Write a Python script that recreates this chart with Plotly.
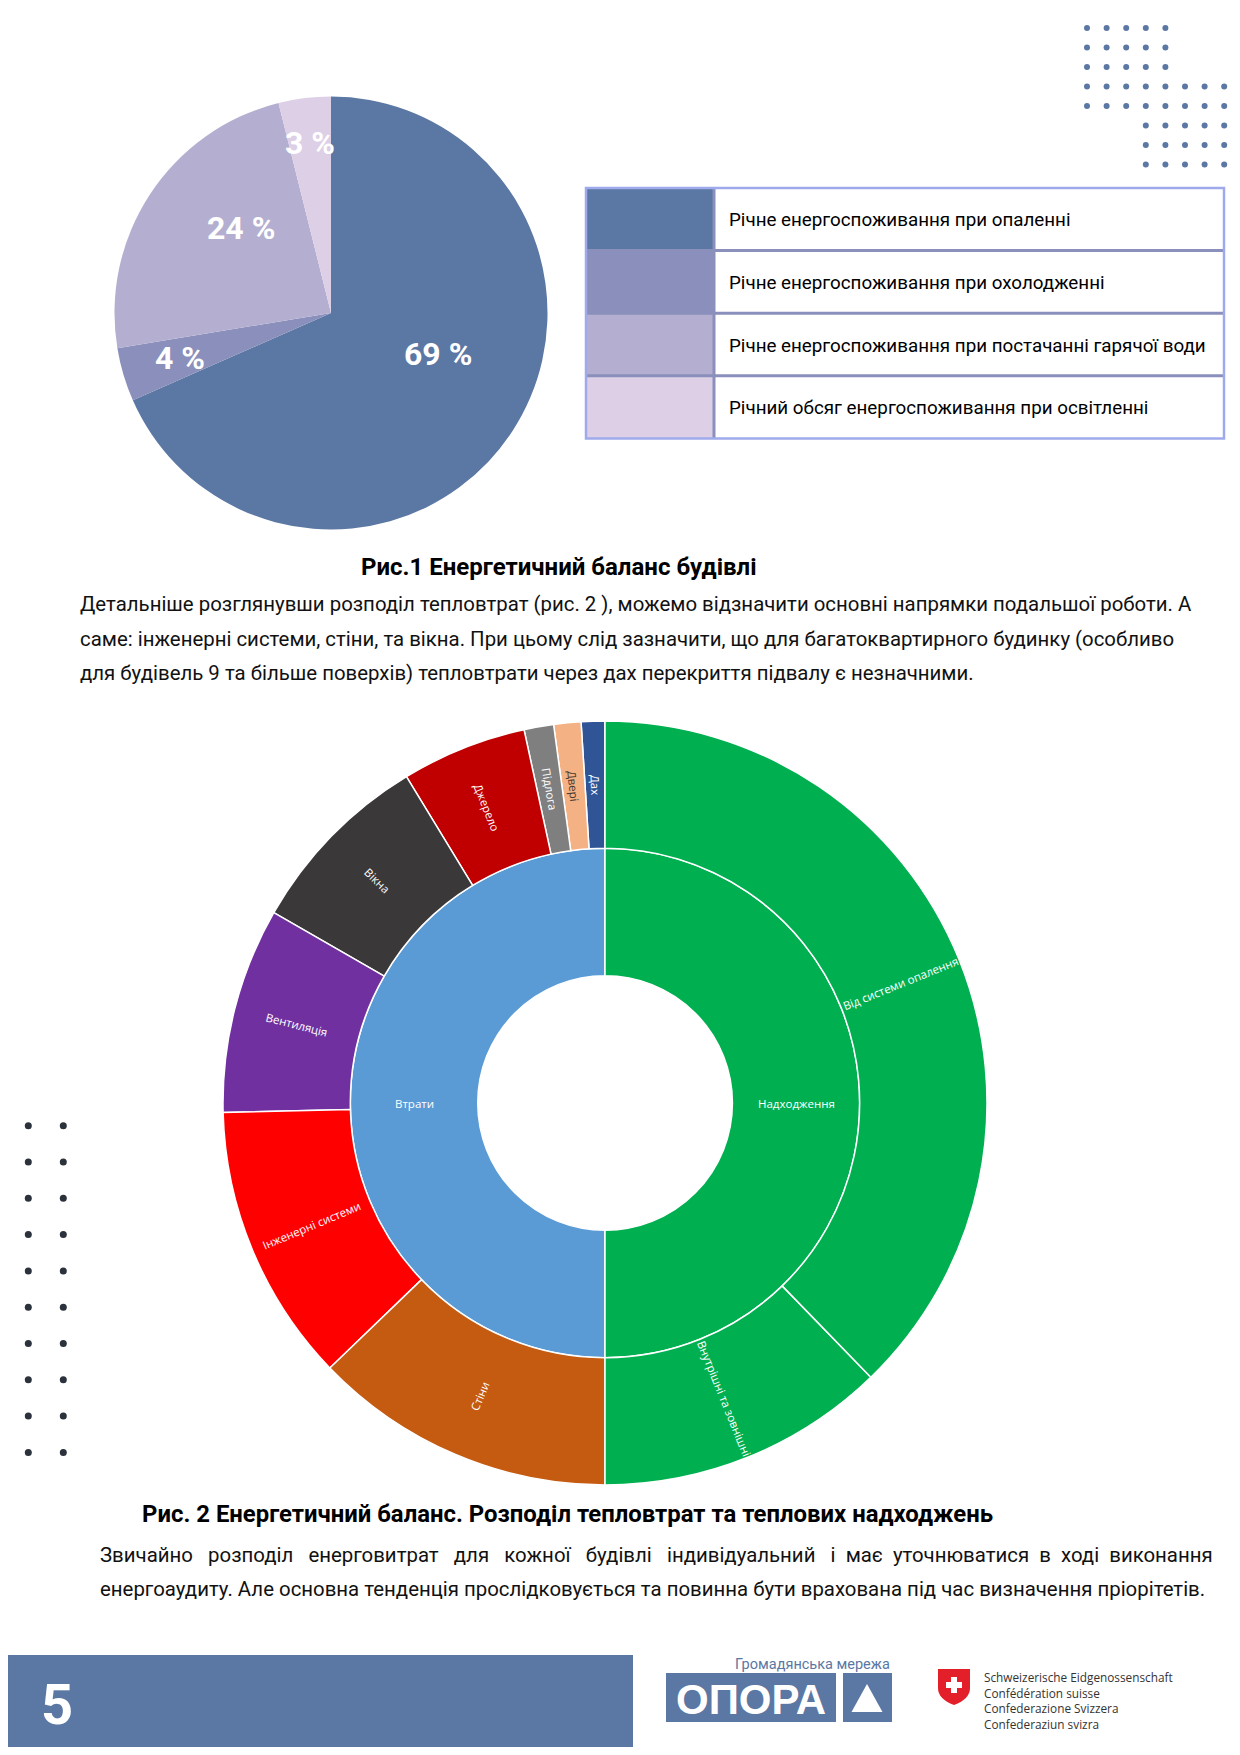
import math
import plotly.graph_objects as go

# ---- data ----
pie_labels = ["Річне енергоспоживання при опаленні",
              "Річне енергоспоживання при охолодженні",
              "Річне енергоспоживання при постачанні гарячої води",
              "Річний обсяг енергоспоживання при освітленні"]
pie_values = [68.4, 4.0, 23.7, 3.9]
pie_text = ["69 %", "4 %", "24 %", "3 %"]

groups = ["Втрати", "Надходження"]
loss_labels = ["Дах", "Двері", "Підлога", "Джерело", "Вікна", "Вентиляція",
               "Інженерні системи", "Стіни"]
loss_values = [1.0, 1.15, 1.25, 5.3, 8.0, 8.7, 11.8, 12.8]
gain_labels = ["Внутрішні та зовнішні", "Від системи опалення"]
gain_values = [12.25, 37.75]

caption1 = "Рис.1 Енергетичний баланс будівлі"
para1 = ["Детальніше розглянувши розподіл тепловтрат (рис. 2 ), можемо відзначити основні напрямки подальшої роботи. А",
         "саме: інженерні системи, стіни, та вікна. При цьому слід зазначити, що для багатоквартирного будинку (особливо",
         "для будівель 9 та більше поверхів) тепловтрати через дах перекриття підвалу є незначними."]
caption2 = "Рис. 2 Енергетичний баланс. Розподіл тепловтрат та теплових надходжень"
para2 = ["Звичайно розподіл енерговитрат для кожної будівлі індивідуальний і має уточнюватися в ході виконання",
         "енергоаудиту. Але основна тенденція прослідковується та повинна бути врахована під час визначення пріорітетів."]
swiss_lines = ["Schweizerische Eidgenossenschaft", "Confédération suisse",
               "Confederazione Svizzera", "Confederaziun svizra"]

# ---- styles ----
pie_colors = ["#5b77a3", "#8a8fbb", "#b4afd0", "#dccfe6"]
pie_label_r = [0.53, 0.73, 0.57, 0.79]    # label distance from centre (share of radius)
pie_label_turn = [-12, 0, 10, 0]          # small angular nudge of the label, degrees
group_colors = ["#5b9bd5", "#00b050"]
loss_colors = ["#2f5597", "#f4b183", "#7f7f7f", "#c00000", "#3a3838", "#7030a0",
               "#ff0000", "#c55a11"]
gain_colors = ["#00b050", "#00b050"]
BLUE = "#5b77a3"
FONT = "Roboto, 'Liberation Sans', sans-serif"
SB_FONT = "'Open Sans', Roboto, sans-serif"

# page is 1240x1755, body margin 8px -> figure 1224x1739 offset by 8
OFF = 8
W, H = 1240 - 2 * OFF, 1755 - 2 * OFF


def dom_x(a, b):
    return [(a - OFF) / W, (b - OFF) / W]


def dom_y(top, bottom):
    return [1 - (bottom - OFF) / H, 1 - (top - OFF) / H]


fig = go.Figure()

# pie (fig 1)
PCX, PCY, PR = 331, 313, 216.5
fig.add_trace(go.Pie(
    labels=pie_labels, values=pie_values,
    textinfo="none",
    sort=False, direction="clockwise", rotation=0,
    marker=dict(colors=pie_colors, line=dict(width=0)),
    hoverinfo="skip", showlegend=False,
    domain=dict(x=dom_x(PCX - PR, PCX + PR), y=dom_y(PCY - PR, PCY + PR)),
))

# sunburst (fig 2) - white root works as the hole
SCX, SCY, SR = 605, 1103, 382
ids = ["root"] + groups + ["L" + s for s in loss_labels] + ["G" + s for s in gain_labels]
labels = [""] + groups + loss_labels + gain_labels
parents = ["", "root", "root"] + ["Втрати"] * len(loss_labels) + ["Надходження"] * len(gain_labels)
values = [sum(loss_values) + sum(gain_values), sum(loss_values), sum(gain_values)] + loss_values + gain_values
colors = ["white"] + group_colors + loss_colors + gain_colors

fig.add_trace(go.Sunburst(
    ids=ids, labels=labels, parents=parents, values=values,
    branchvalues="total", sort=False, rotation=90,
    marker=dict(colors=colors, line=dict(color="white", width=1.5)),
    leaf=dict(opacity=1),
    textinfo="none",
    hoverinfo="skip",
    domain=dict(x=dom_x(SCX - SR, SCX + SR), y=dom_y(SCY - SR, SCY + SR)),
))

# decorative dot grids
dx, dy = [], []
for r in range(8):
    cols = range(5) if r < 3 else (range(8) if r < 5 else range(3, 8))
    for c in cols:
        dx.append(1087 + 19.6 * c)
        dy.append(28 + 19.5 * r)
fig.add_trace(go.Scatter(x=dx, y=dy, mode="markers", hoverinfo="skip",
                         marker=dict(size=6, color=BLUE), showlegend=False))
lx, ly = [], []
for r in range(10):
    for xx in (28.3, 63.3):
        lx.append(xx)
        ly.append(1125.7 + 36.3 * r)
fig.add_trace(go.Scatter(x=lx, y=ly, mode="markers", hoverinfo="skip",
                         marker=dict(size=7, color="#2b323c"), showlegend=False))

shapes = []
annotations = []


def note(x, y, text, size, color="black", xanchor="left", family=FONT, **kw):
    annotations.append(dict(x=x, y=y, xref="x", yref="y", text=text, showarrow=False,
                            xanchor=xanchor, yanchor="middle",
                            font=dict(family=family, size=size, color=color), **kw))


# pie percentage labels, placed at each slice's middle angle
total = sum(pie_values)
cum = 0
for v, t, rf, turn in zip(pie_values, pie_text, pie_label_r, pie_label_turn):
    mid = (cum + v / 2) / total * 2 * math.pi + math.radians(turn)
    cum += v
    note(PCX + rf * PR * math.sin(mid), PCY - rf * PR * math.cos(mid), "<b>" + t + "</b>",
         32, color="white", xanchor="center")


# sunburst labels, radial like the original (angles from the values)
def radial_label(text, start, v, tot, ring, color="white"):
    ccw = (start + v / 2) / tot * 360          # counterclockwise from 12 o'clock
    phi = math.radians(360 - ccw)               # clockwise from 12 o'clock
    rr = (ring + 0.5) * SR / 3
    ang = math.degrees(phi) - 90
    while ang > 90:
        ang -= 180
    while ang <= -90:
        ang += 180
    note(SCX + rr * math.sin(phi), SCY - rr * math.cos(phi), text, 11.5, color=color,
         xanchor="center", family=SB_FONT, textangle=ang)


tot = sum(loss_values) + sum(gain_values)
note(SCX - 1.5 * SR / 3, SCY, groups[0], 11.5, color="white", xanchor="center", family=SB_FONT)
note(SCX + 1.5 * SR / 3, SCY, groups[1], 11.5, color="white", xanchor="center", family=SB_FONT)
cum = 0
for lab, v in zip(loss_labels, loss_values):
    radial_label(lab, cum, v, tot, 2, color="#4a3a30" if lab == "Двері" else "white")
    cum += v
cum = sum(loss_values)
for lab, v in zip(gain_labels, gain_values):
    radial_label(lab, cum, v, tot, 2)
    cum += v

# legend table
t_top, row_h = 188, 62.6
for i, lab in enumerate(pie_labels):
    y0 = t_top + row_h * i
    shapes.append(dict(type="rect", xref="x", yref="y", x0=587, x1=713, y0=y0, y1=y0 + row_h,
                       fillcolor=pie_colors[i], line=dict(width=0), layer="above"))
    note(727, y0 + row_h / 2 + 1, lab, 18.8)
for i in range(1, 4):
    y0 = t_top + row_h * i
    shapes.append(dict(type="line", xref="x", yref="y", x0=586, x1=1224, y0=y0, y1=y0,
                       line=dict(color="#8a8fbb", width=3), layer="above"))
shapes.append(dict(type="line", xref="x", yref="y", x0=714, x1=714, y0=t_top, y1=t_top + 4 * row_h,
                   line=dict(color="#8a8fbb", width=3), layer="above"))
shapes.append(dict(type="rect", xref="x", yref="y", x0=586, x1=1224, y0=t_top, y1=t_top + 4 * row_h,
                   line=dict(color="#9eaaec", width=2.5), layer="above"))

# captions and paragraphs
note(559, 567, "<b>" + caption1 + "</b>", 24, xanchor="center")
for i, line in enumerate(para1):
    note(78, 604 + 34.6 * i, line, 20.4, color="#111111")
note(567, 1514, "<b>" + caption2 + "</b>", 23.9, xanchor="center")
for i, line in enumerate(para2):
    if i == 0:   # justified line: widen the word gaps with non-breaking spaces
        words = line.split(" ")
        line = words[0]
        for k, w in enumerate(words[1:]):
            line += (" \u00a0\u00a0" if k < 7 else " \u00a0") + w
    note(98, 1555 + 34 * i, line, 20.4, color="#111111")

# footer
shapes.append(dict(type="rect", xref="x", yref="y", x0=0, x1=633, y0=1655, y1=1752,
                   fillcolor=BLUE, line=dict(width=0), layer="above"))
note(57, 1705, "<b>5</b>", 56, color="white", xanchor="center")

shapes.append(dict(type="rect", xref="x", yref="y", x0=666, x1=836, y0=1673, y1=1722,
                   fillcolor=BLUE, line=dict(width=0), layer="above"))
shapes.append(dict(type="rect", xref="x", yref="y", x0=843, x1=892, y0=1673, y1=1722,
                   fillcolor=BLUE, line=dict(width=0), layer="above"))
shapes.append(dict(type="path", xref="x", yref="y", path="M 851.5,1712 L 867,1684 L 882.5,1712 Z",
                   fillcolor="white", line=dict(width=0), layer="above"))
note(750.5, 1699, "<b>ОПОРА</b>", 42, color="white", xanchor="center",
     family="'Liberation Sans', Arial, sans-serif")
note(892, 1664, "Громадянська мережа", 14.5, color=BLUE, xanchor="right")

# swiss shield
shapes.append(dict(type="path", xref="x", yref="y",
                   path="M 938,1669 L 970,1669 L 970,1688 Q 970,1699 954,1705 Q 938,1699 938,1688 Z",
                   fillcolor="#e3202a", line=dict(width=0), layer="above"))
shapes.append(dict(type="rect", xref="x", yref="y", x0=951, x1=957, y0=1677, y1=1693,
                   fillcolor="white", line=dict(width=0), layer="above"))
shapes.append(dict(type="rect", xref="x", yref="y", x0=946, x1=962, y0=1682, y1=1688,
                   fillcolor="white", line=dict(width=0), layer="above"))
for i, line in enumerate(swiss_lines):
    note(982, 1677 + 15.5 * i, line, 11.8, color="#333333",
         family="'Open Sans', 'DejaVu Sans', sans-serif")

fig.update_layout(
    width=W, height=H,
    margin=dict(l=0, r=0, t=0, b=0),
    paper_bgcolor="white", plot_bgcolor="rgba(0,0,0,0)",
    xaxis=dict(range=[OFF, OFF + W], visible=False, fixedrange=True),
    yaxis=dict(range=[OFF + H, OFF], visible=False, fixedrange=True),
    shapes=shapes, annotations=annotations,
    showlegend=False,
)

fig.write_html("out.html")
